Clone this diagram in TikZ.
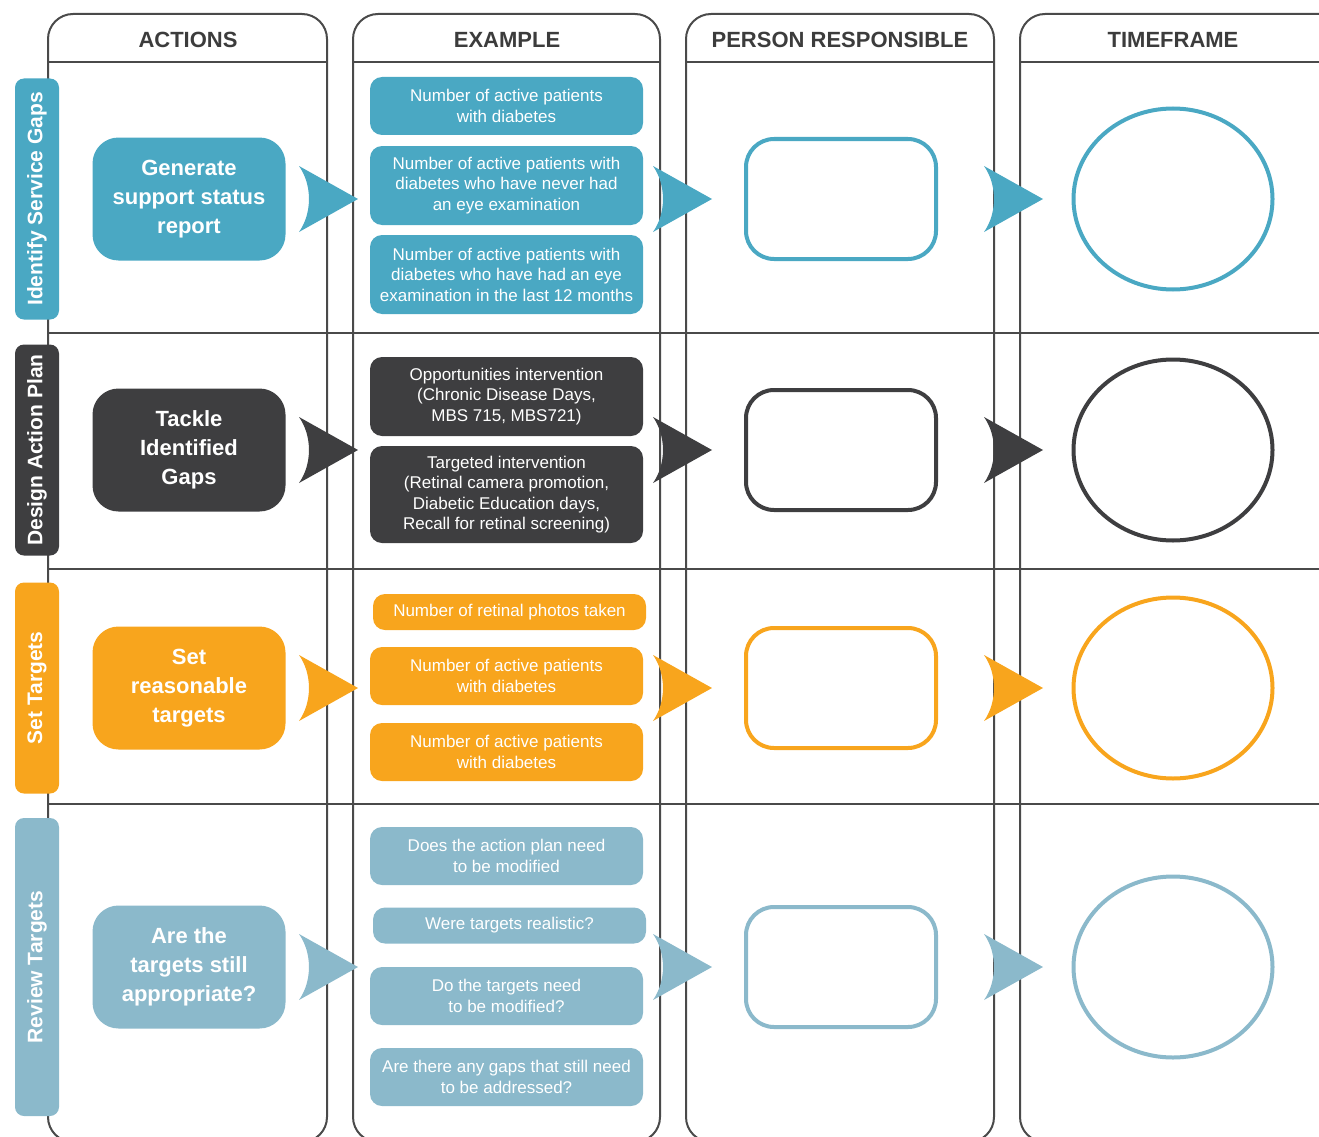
\documentclass[tikz,border=0pt]{standalone}
\usepackage{fontspec}
\setmainfont{Liberation Sans}
\usetikzlibrary{positioning, shapes.geometric}
\definecolor{cblue}{HTML}{4AA8C3}
\definecolor{cdark}{HTML}{3E3E40}
\definecolor{corange}{HTML}{F8A51D}
\definecolor{clight}{HTML}{8BB9CB}
\definecolor{cgrid}{HTML}{4A4A4A}
\definecolor{chead}{HTML}{3C3C3C}
\tikzset{
  frame/.style={draw=cgrid, line width=2pt, rounded corners=25pt},
  grid/.style={draw=cgrid, line width=2pt},
  head/.style={font=\fontsize{22}{26}\selectfont\bfseries, text=chead},
  side/.style={fill=#1, rounded corners=9pt, minimum height=44pt, inner sep=0pt, rotate=90, text=white, font=\fontsize{21}{24}\selectfont\bfseries},
  action/.style={fill=#1, rounded corners=26pt, minimum width=193pt, minimum height=123pt, align=center, text=white, font=\fontsize{22}{29}\selectfont\bfseries},
  ex/.style={fill=#1, rounded corners=12pt, minimum width=273pt, inner sep=0pt, align=center, text=white, font=\fontsize{17}{20.5}\selectfont},
  who/.style={draw=#1, line width=4pt, rounded corners=28pt, minimum width=190pt, minimum height=120pt},
  when/.style={draw=#1, line width=4pt, ellipse, minimum width=199pt, minimum height=181pt, inner sep=0pt},
  chev/.pic={\fill (-59,-33) -- (0,0) -- (-59,33) .. controls (-45.7,14) and (-45.7,-14) .. (-59,-33);}
}
\begin{document}
\begin{tikzpicture}[x=1pt, y=-1pt]
  \useasboundingbox (0,0) rectangle (1319,1137);
  \clip (0,0) rectangle (1319,1137);
  % ---------- columns ----------
  \foreach \xa/\xb/\hx/\name/\txt in {48/327/188/hact/ACTIONS, 353/660/507/hex/EXAMPLE, 686/994/840/hwho/PERSON RESPONSIBLE, 1020/1360/1173/hwhen/TIMEFRAME} {
    \draw[frame] (\xa,14) rectangle (\xb,1142);
    \draw[grid] (\xa,62) -- (\xb,62);
    \node[head] (\name) at (\hx,40) {\txt};
  }
  \foreach \y in {333,569,804} \draw[grid] (48,\y) -- (1319,\y);
  % ---------- rows ----------
  \foreach \c/\y/\len/\lab/\act [count=\r] in {
      cblue/199/241/{Identify Service Gaps}/{Generate\\support status\\report},
      cdark/450/211/{Design Action Plan}/{Tackle\\Identified\\Gaps},
      corange/688/211/{Set Targets}/{Set\\reasonable\\targets},
      clight/967/298/{Review Targets}/{Are the\\targets still\\appropriate?}} {
    \node[side=\c, minimum width=\len pt] (s\r) at (37,\y) {\lab};
    \node[action=\c] (a\r) at (189,\y) {\act};
    \node[who=\c] (p\r) at (841,\y) {};
    \node[when=\c] (t\r) at (1173,\y) {};
    \pic[fill=\c] at (358,\y) {chev};
    \pic[fill=\c] at (712,\y) {chev};
    \pic[fill=\c] at (1043,\y) {chev};
  }
  % ---------- examples ----------
  \foreach \c/\x/\y/\h/\txt [count=\i] in {
      cblue/506.5/106/58/{Number of active patients\\with diabetes},
      cblue/506.5/185.5/79/{Number of active patients with\\diabetes who have never had\\an eye examination},
      cblue/506.5/274.5/79/{Number of active patients with\\diabetes who have had an eye\\examination in the last 12 months},
      cdark/506.5/396.5/79/{Opportunities intervention\\(Chronic Disease Days,\\MBS 715, MBS721)},
      cdark/506.5/494.5/97/{Targeted intervention\\(Retinal camera promotion,\\Diabetic Education days,\\Recall for retinal screening)},
      corange/509.5/612/36/{Number of retinal photos taken},
      corange/506.5/676/58/{Number of active patients\\with diabetes},
      corange/506.5/752/58/{Number of active patients\\with diabetes},
      clight/506.5/856/58/{Does the action plan need\\to be modified},
      clight/509.5/925.5/36/{Were targets realistic?},
      clight/506.5/996/58/{Do the targets need\\to be modified?},
      clight/506.5/1077/58/{Are there any gaps that still need\\to be addressed?}} {
    \node[ex=\c, minimum height=\h pt] (e\i) at (\x,\y) {\txt};
  }
\end{tikzpicture}
\end{document}
